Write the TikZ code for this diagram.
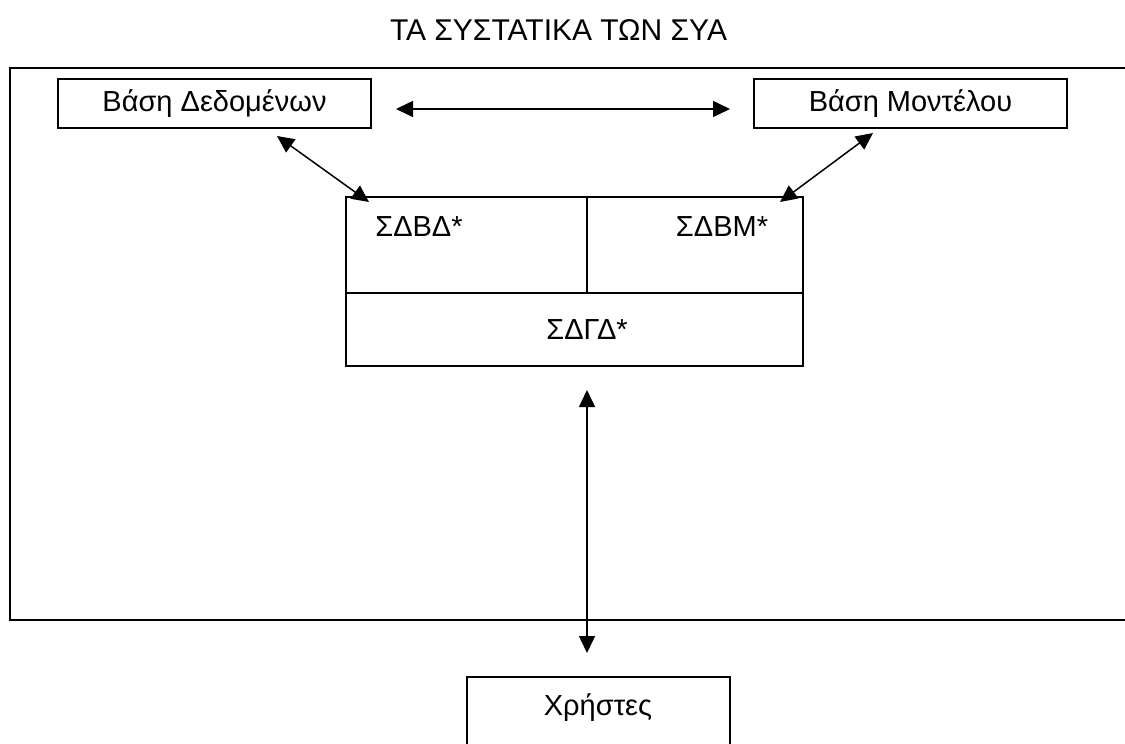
\documentclass[tikz,border=0pt]{standalone}
\usepackage{fontspec}
\setmainfont{Liberation Sans}
\usetikzlibrary{arrows.meta}
\begin{document}
\begin{tikzpicture}[x=1pt,y=-1pt,
  line width=1.5pt,
  txt/.style={font=\fontsize{29}{32}\selectfont, inner sep=0pt},
  cell/.style={draw, rectangle, inner sep=0pt},
  conn/.style={{Triangle[length=17pt,width=16pt]}-{Triangle[length=17pt,width=16pt]}, line width=1.5pt}
]
\useasboundingbox (0,0) rectangle (1125,744);
% title
\node[txt, font=\fontsize{30}{33}\selectfont] (title) at (558.5,30) {ΤΑ ΣΥΣΤΑΤΙΚΑ ΤΩΝ ΣΥΑ};
% outer frame (open on the right)
\coordinate (ftr) at (1130,68);
\coordinate (ftl) at (10,68);
\coordinate (fbl) at (10,620);
\coordinate (fbr) at (1130,620);
\draw (ftr) -- (ftl) -- (fbl) -- (fbr);
% top boxes
\node[cell, minimum width=313pt, minimum height=49pt, txt] (db) at (214.5,103.5) {Βάση Δεδομένων};
\node[cell, minimum width=313pt, minimum height=49pt, txt] (mb) at (910.5,103.5) {Βάση Μοντέλου};
% central block
\node[cell, minimum width=241pt, minimum height=96pt] (sdbd) at (466.5,245) {};
\node[cell, minimum width=216pt, minimum height=96pt] (sdbm) at (695,245) {};
\node[cell, minimum width=457pt, minimum height=73pt] (sdgd) at (574.5,329.5) {};
\node[txt] (lsdbd) at (419,227) {ΣΔΒΔ*};
\node[txt] (lsdbm) at (722,227) {ΣΔΒΜ*};
\node[txt] (lsdgd) at (587,330) {ΣΔΓΔ*};
% users box (bottom cut off)
\coordinate (ubl) at (467,750);
\coordinate (utl) at (467,677);
\coordinate (utr) at (730,677);
\coordinate (ubr) at (730,750);
\draw (ubl) -- (utl) -- (utr) -- (ubr);
\node[txt] (users) at (598,708) {Χρήστες};
% connectors
\coordinate (h1) at (396,109);
\coordinate (h2) at (730,109);
\draw[conn] (h1) -- (h2);
\coordinate (dl1) at (277,136);
\coordinate (dl2) at (369,202);
\draw[conn] (dl1) -- (dl2);
\coordinate (dr1) at (873,133);
\coordinate (dr2) at (780,202);
\draw[conn] (dr1) -- (dr2);
\coordinate (v1) at (587,390);
\coordinate (v2) at (587,653);
\draw[conn] (v1) -- (v2);
\end{tikzpicture}
\end{document}
